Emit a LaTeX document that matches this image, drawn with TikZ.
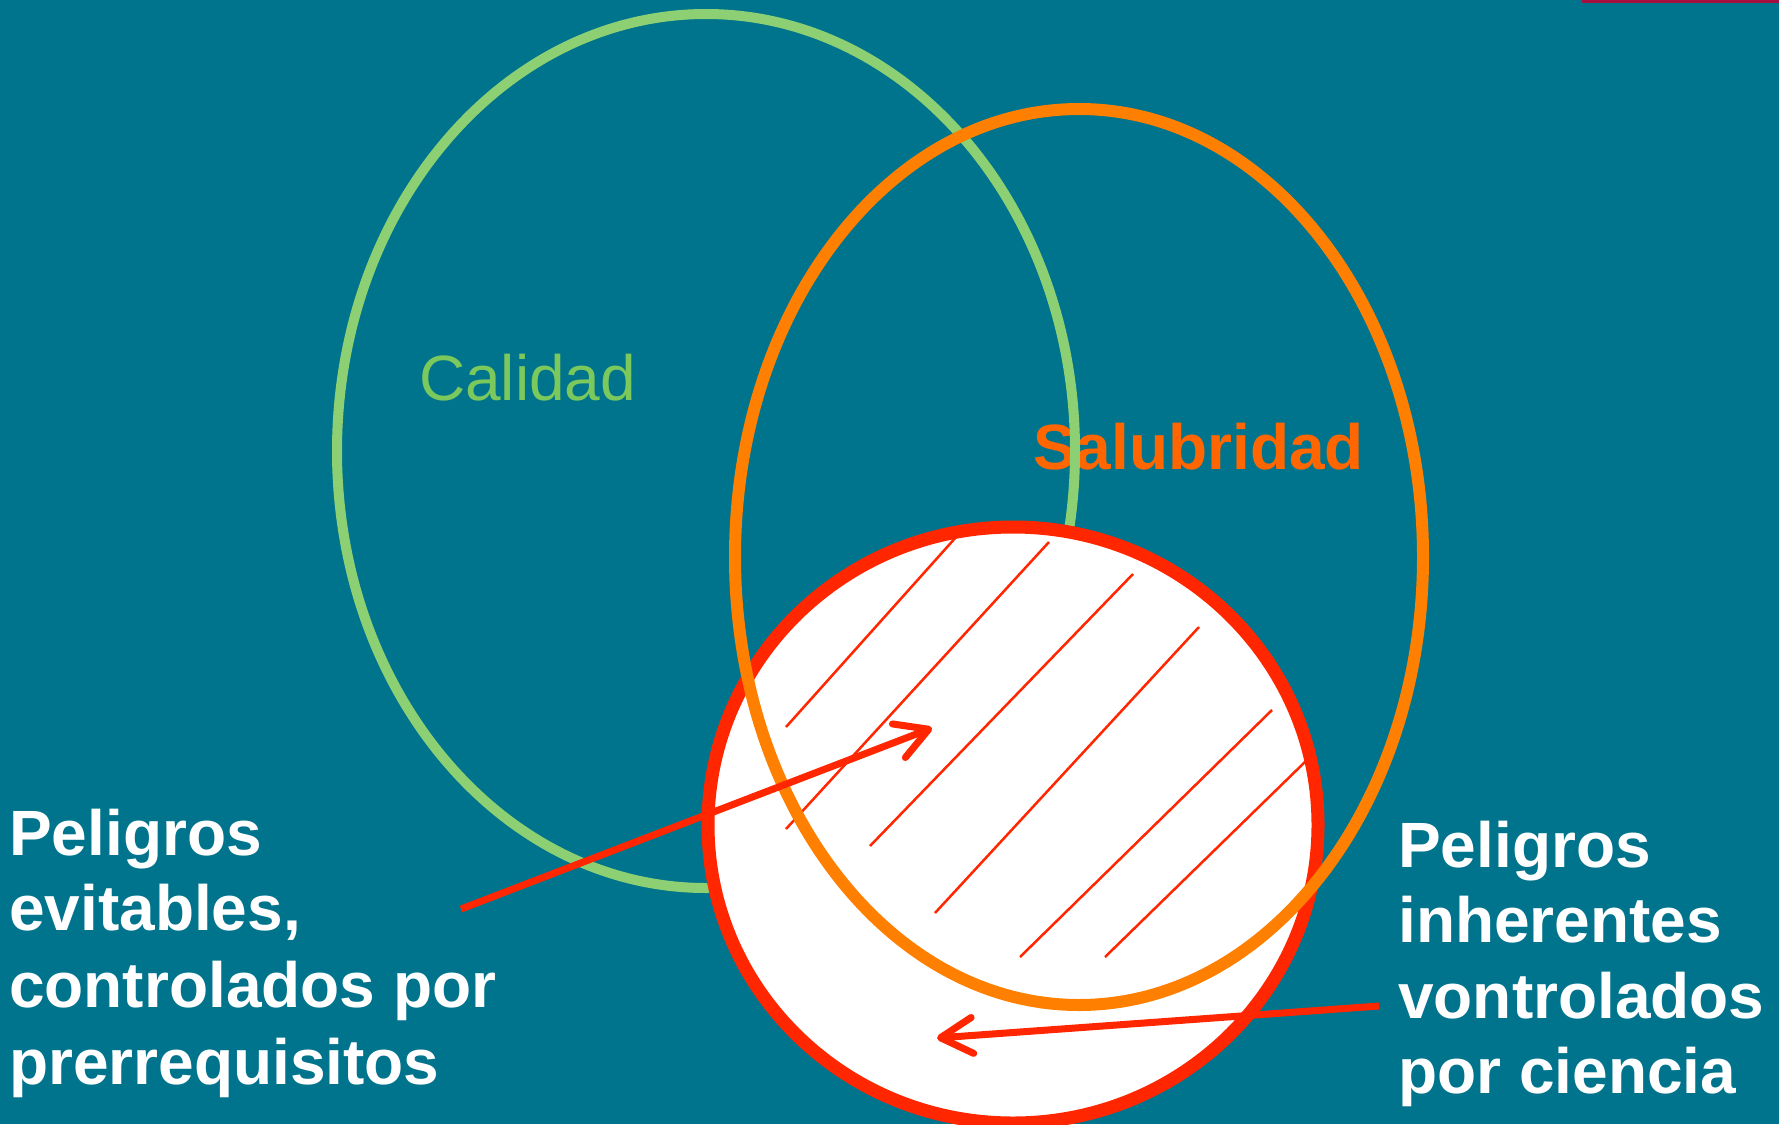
\documentclass[tikz,border=0pt]{standalone}
\usepackage{fontspec}
\setmainfont{Liberation Sans}
\usetikzlibrary{arrows.meta}
\definecolor{bgteal}{RGB}{0,116,140}
\definecolor{greenring}{RGB}{140,208,115}
\definecolor{greentext}{RGB}{123,200,92}
\definecolor{orangering}{RGB}{255,128,0}
\definecolor{orangetext}{RGB}{255,102,0}
\definecolor{redc}{RGB}{255,38,0}
\definecolor{barmag}{RGB}{166,16,64}
\begin{document}
\begin{tikzpicture}[x=1pt,y=-1pt,
  lbl/.style={inner sep=0pt, anchor=base west, font=\fontsize{64}{76}\selectfont},
  whitelbl/.style={lbl, text=white, font=\fontsize{64}{76}\selectfont\bfseries},
  hatchline/.style={draw=redc, line width=2.5pt},
  pointer/.style={draw=redc, line width=7pt, line cap=butt,
    -{Straight Barb[round, length=32pt, width=36pt]}}
]
\useasboundingbox (0,0) rectangle (1779,1124);
\clip (0,0) rectangle (1779,1124);
\fill[bgteal] (0,0) rectangle (1779,1124);
\fill[barmag] (1582,0) rectangle (1779,3);

% labels inside the sets
\node[lbl, text=orangetext, font=\fontsize{64}{76}\selectfont\bfseries] (salub) at (1033,469) {Salubridad};
\node[lbl, text=greentext] (calid) at (419,400) {Calidad};

% Calidad set
\draw[greenring, line width=10pt] (706,451) ellipse [x radius=369, y radius=437];

% hazard circle
\draw[redc, fill=white, line width=13pt] (1013,825) ellipse [x radius=305, y radius=298];

% hatching
\draw[hatchline] (786,727) -- (957,536);
\draw[hatchline] (786,829) -- (1049,542);
\draw[hatchline] (870,846) -- (1133,574);
\draw[hatchline] (935,913) -- (1199,627);
\draw[hatchline] (1020,957) -- (1272,710);
\draw[hatchline] (1105,957) -- (1307,760);

% Salubridad set
\draw[orangering, line width=12pt] (1079,557) ellipse [x radius=344, y radius=448];

% arrows
\coordinate (a1s) at (461,909);
\coordinate (a1e) at (932,728);
\coordinate (a2s) at (1379,1006);
\coordinate (a2e) at (937,1038);
\draw[pointer] (a1s) -- (a1e);
\draw[pointer] (a2s) -- (a2e);

% left text
\node[whitelbl] (l1) at (9,855) {Peligros};
\node[whitelbl] (l2) at (9,930) {evitables,};
\node[whitelbl] (l3) at (9,1007) {controlados por};
\node[whitelbl] (l4) at (9,1084) {prerrequisitos};

% right text
\node[whitelbl] (r1) at (1398,867) {Peligros};
\node[whitelbl] (r2) at (1398,942) {inherentes};
\node[whitelbl] (r3) at (1398,1018) {vontrolados};
\node[whitelbl] (r4) at (1398,1093) {por ciencia};
\end{tikzpicture}
\end{document}
